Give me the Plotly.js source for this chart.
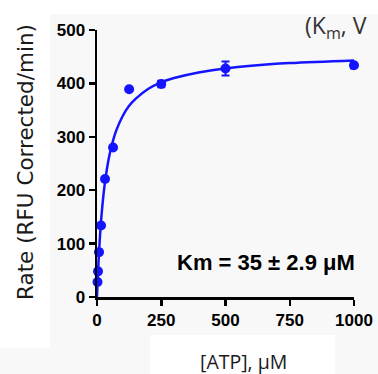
<!DOCTYPE html>
<html>
<head>
<meta charset="utf-8">
<script src="https://cdn.plot.ly/plotly-3.0.1.min.js"></script>
<style>html,body{margin:0;padding:0;background:#fff;}#chart{width:378px;height:374px;}</style>
</head>
<body>
<div id="chart"></div>
<script>
// Measured points
const atp = [1.95, 3.9, 7.8, 15.6, 31.25, 62.5, 125, 250, 500, 1000];
const rate = [28, 48, 84, 134, 221, 280, 389, 399, 428, 434];
const rateErr = [0, 0, 0, 0, 0, 0, 0, 6, 13, 6];
// Fitted curve
const fitX = [0, 2, 4, 8, 12, 16, 20, 25, 30, 40, 50, 62.5, 75, 100, 125, 150, 200, 250, 300, 400, 500, 600, 750, 1000];
const fitY = [0, 25, 47, 85, 117, 144, 166, 191, 211, 244, 269, 293, 312, 339, 358, 371, 390, 402, 410, 421, 428, 433, 438, 443];
const xTicks = [0, 250, 500, 750, 1000];
const yTicks = [0, 100, 200, 300, 400, 500];

const blue = '#1414ff';
const traces = [
  {x: fitX, y: fitY, type: 'scatter', mode: 'lines', line: {color: blue, width: 2.5, shape: 'spline'}, hoverinfo: 'skip', cliponaxis: false},
  {x: atp, y: rate, type: 'scatter', mode: 'markers', marker: {color: blue, size: 10},
   error_y: {type: 'data', array: rateErr, visible: true, color: blue, thickness: 2, width: 4}, cliponaxis: false}
];

// pixel -> paper helpers (plot area: x 97..354, y 30..297)
const L = 97, R = 354, T = 30, B = 297;
const px = v => (v - L) / (R - L);
const py = v => (B - v) / (B - T);

const layout = {
  width: 378, height: 374,
  margin: {l: L, r: 378 - R, t: T, b: 374 - B, pad: 0},
  paper_bgcolor: '#f8f8f8',
  plot_bgcolor: 'rgba(0,0,0,0)',
  showlegend: false,
  font: {family: 'Liberation Sans, Arial, sans-serif', color: '#000'},
  xaxis: {
    range: [0, 1000], tickvals: xTicks, ticktext: xTicks.map(String),
    showgrid: false, zeroline: false, showline: true, linecolor: '#000', linewidth: 2.5,
    ticks: 'outside', ticklen: 6, tickwidth: 2.5, tickcolor: '#000',
    tickfont: {size: 17, family: 'Liberation Sans, Arial, sans-serif', weight: 'bold', color: '#000'}
  },
  yaxis: {
    range: [0, 500], tickvals: yTicks, ticktext: yTicks.map(String),
    showgrid: false, zeroline: false, showline: true, linecolor: '#000', linewidth: 2.5,
    ticks: 'outside', ticklen: 6, tickwidth: 2.5, tickcolor: '#000',
    tickfont: {size: 17, family: 'Liberation Sans, Arial, sans-serif', weight: 'bold', color: '#000'}
  },
  shapes: [
    {type: 'rect', xref: 'paper', yref: 'paper', x0: px(0), x1: px(50), y0: py(348), y1: py(0), fillcolor: '#fff', line: {width: 0}, layer: 'below'},
    {type: 'rect', xref: 'paper', yref: 'paper', x0: px(0), x1: px(378), y0: py(14), y1: py(0), fillcolor: '#fff', line: {width: 0}, layer: 'below'},
    {type: 'rect', xref: 'paper', yref: 'paper', x0: px(150), x1: px(335), y0: py(374), y1: py(335), fillcolor: '#fff', line: {width: 0}, layer: 'below'}
  ],
  annotations: [
    {text: 'Rate (RFU Corrected/min)', xref: 'paper', yref: 'paper', x: px(25), y: py(162), textangle: -90,
     showarrow: false, xanchor: 'center', yanchor: 'middle', font: {size: 21.5, family: 'DejaVu Sans, sans-serif', color: '#1a1a1a'}},
    {text: '[ATP], μM', xref: 'paper', yref: 'paper', x: px(243), y: py(361),
     showarrow: false, xanchor: 'center', yanchor: 'middle', font: {size: 19.5, family: 'Open Sans, sans-serif', color: '#1a1a1a'}},
    {text: '<b>Km = 35 ± 2.9 μM</b>', xref: 'paper', yref: 'paper', x: px(357), y: py(262),
     showarrow: false, xanchor: 'right', yanchor: 'middle', font: {size: 22, family: 'Liberation Sans, Arial, sans-serif', color: '#000'}},
    {text: '(K<sub>m</sub>, V', xref: 'paper', yref: 'paper', x: px(303), y: py(27),
     showarrow: false, xanchor: 'left', yanchor: 'middle', font: {size: 23, family: 'Open Sans, sans-serif', color: '#333'}}
  ]
};

Plotly.newPlot('chart', traces, layout, {displayModeBar: false, staticPlot: true});
</script>
</body>
</html>
